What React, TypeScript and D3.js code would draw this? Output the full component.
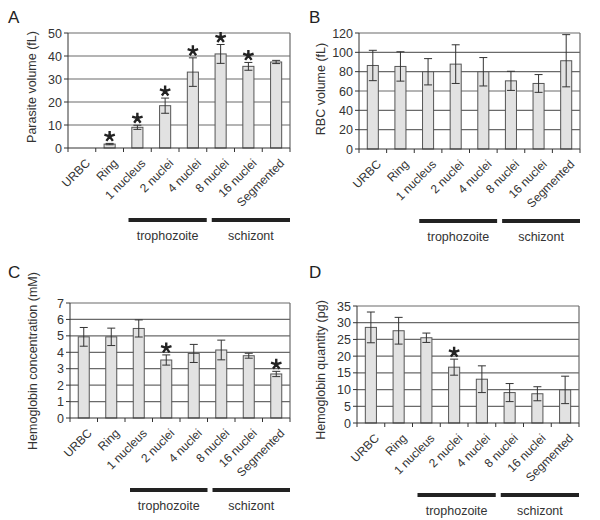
import React from "react";
import * as d3 from "d3";

const categories = ["URBC", "Ring", "1 nucleus", "2 nuclei", "4 nuclei", "8 nuclei", "16 nuclei", "Segmented"];

// A: parasite volume (fL)
const parasiteVol = [0, 1.7, 9.0, 18.4, 33.0, 40.9, 35.5, 37.4];
const parasiteErr = [0, 0.3, 0.9, 3.3, 6.2, 4.1, 1.7, 0.7];
const parasiteStar = [false, true, true, true, true, true, true, false];

// B: RBC volume (fL)
const rbcVol = [86.4, 85.4, 79.9, 87.8, 79.9, 70.5, 67.8, 91.3];
const rbcErr = [15.7, 15.2, 13.6, 20, 14.7, 9.9, 9.2, 27];
const rbcStar = [false, false, false, false, false, false, false, false];

// C: hemoglobin concentration (mM)
const hbConc = [4.94, 4.94, 5.45, 3.53, 3.93, 4.14, 3.79, 2.68];
const hbConcErr = [0.57, 0.53, 0.52, 0.31, 0.55, 0.6, 0.15, 0.16];
const hbConcStar = [false, false, false, true, false, false, false, true];

// D: hemoglobin quantity (pg)
const hbQty = [28.6, 27.6, 25.5, 16.7, 13.1, 9.1, 8.75, 9.9];
const hbQtyErr = [4.6, 4.0, 1.4, 2.4, 4.0, 2.7, 2.1, 4.1];
const hbQtyStar = [false, false, false, true, false, false, false, false];

const font = "'Liberation Sans', Arial, sans-serif";

function starPath(cx, cy, r) {
  let d = "";
  for (let i = 0; i < 5; i++) {
    const a = (-90 + i * 72) * Math.PI / 180;
    d += `M${cx},${cy}L${cx + r * Math.cos(a)},${cy + r * Math.sin(a)}`;
  }
  return d;
}

function Panel({ letter, title, values, errors, stars, yMax, yStep, left, right, top, bottom, letterX, letterY, titleX, titleY }) {
  const x = d3.scaleBand().domain(categories).range([left, right]).paddingInner(0.6).paddingOuter(0.3);
  const xb = d3.scaleBand().domain(categories).range([left, right]);
  const y = d3.scaleLinear().domain([0, yMax]).range([bottom, top]);
  const ticks = d3.range(0, yMax + yStep / 2, yStep);
  const bw = x.bandwidth();
  const gridColor = "#6a6a6a";
  const troStart = xb("1 nucleus") + 5;
  const troEnd = xb("8 nuclei");
  const schStart = xb("8 nuclei") + 5;
  const schEnd = right;
  return (
    <g fontFamily={font}>
      <text x={letterX} y={letterY} fontSize={17} fill="#222">{letter}</text>
      <text transform={`translate(${titleX},${titleY}) rotate(-90)`} textAnchor="middle" fontSize={12.5} fill="#333">{title}</text>
      {ticks.map(t => (
        <g key={t}>
          {t > 0 && <line x1={left} x2={right} y1={y(t)} y2={y(t)} stroke={gridColor} strokeWidth={1.2} />}
          <line x1={left - 4} x2={left} y1={y(t)} y2={y(t)} stroke="#333" />
          <text x={left - 6} y={y(t)} dy="0.36em" textAnchor="end" fontSize={12.5} fill="#333">{t}</text>
        </g>
      ))}
      <line x1={right} x2={right} y1={top} y2={bottom} stroke={gridColor} strokeWidth={1.2} />
      {categories.map((c, i) => (
        <g key={c}>
          {values[i] > 0 && (
            <rect x={x(c)} y={y(values[i])} width={bw} height={bottom - y(values[i])} fill="#e2e2e2" stroke="#555" strokeWidth={1} />
          )}
          {errors[i] > 0 && (
            <g stroke="#333" strokeWidth={1}>
              <line x1={x(c) + bw / 2} x2={x(c) + bw / 2} y1={y(values[i] + errors[i])} y2={y(values[i] - errors[i])} />
              <line x1={x(c) + bw / 2 - 4} x2={x(c) + bw / 2 + 4} y1={y(values[i] + errors[i])} y2={y(values[i] + errors[i])} />
              <line x1={x(c) + bw / 2 - 4} x2={x(c) + bw / 2 + 4} y1={y(values[i] - errors[i])} y2={y(values[i] - errors[i])} />
            </g>
          )}
          {stars[i] && (
            <path d={starPath(x(c) + bw / 2, y(values[i] + errors[i]) - 7, 5.5)} stroke="#222" strokeWidth={2.4} fill="none" />
          )}
          <text transform={`translate(${xb(c) + xb.bandwidth() / 2 + 6},${bottom + 13}) rotate(-45)`} textAnchor="end" dy="0.35em" fontSize={12} fill="#333">{c}</text>
        </g>
      ))}
      {categories.map(c => (
        <line key={"t" + c} x1={xb(c)} x2={xb(c)} y1={bottom} y2={bottom + 4} stroke="#333" />
      ))}
      <line x1={right} x2={right} y1={bottom} y2={bottom + 4} stroke="#333" />
      <line x1={left} x2={left} y1={top} y2={bottom} stroke="#333" />
      <line x1={left} x2={right} y1={bottom} y2={bottom} stroke="#333" />
      <line x1={troStart} x2={troEnd} y1={bottom + 72} y2={bottom + 72} stroke="#222" strokeWidth={4} />
      <line x1={schStart} x2={schEnd} y1={bottom + 72} y2={bottom + 72} stroke="#222" strokeWidth={4} />
      <text x={(troStart + troEnd) / 2} y={bottom + 92} textAnchor="middle" fontSize={12.5} fill="#333">trophozoite</text>
      <text x={(schStart + schEnd) / 2} y={bottom + 92} textAnchor="middle" fontSize={12.5} fill="#333">schizont</text>
    </g>
  );
}

export default function App() {
  return (
    <div style={{ position: "absolute", left: 0, top: 0 }}>
      <svg width={600} height={520} style={{ display: "block", background: "#fff" }}>
        <Panel letter="A" title="Parasite volume (fL)" values={parasiteVol} errors={parasiteErr} stars={parasiteStar}
          yMax={50} yStep={10} left={68} right={290} top={33} bottom={148} letterX={8} letterY={23} titleX={36} titleY={87} />
        <Panel letter="B" title="RBC volume (fL)" values={rbcVol} errors={rbcErr} stars={rbcStar}
          yMax={120} yStep={20} left={359} right={580} top={33} bottom={149} letterX={309} letterY={23} titleX={325} titleY={89} />
        <Panel letter="C" title="Hemoglobin concentration (mM)" values={hbConc} errors={hbConcErr} stars={hbConcStar}
          yMax={7} yStep={1} left={70} right={290} top={303} bottom={418} letterX={8} letterY={278} titleX={37} titleY={361} />
        <Panel letter="D" title="Hemoglobin quantity (pg)" values={hbQty} errors={hbQtyErr} stars={hbQtyStar}
          yMax={35} yStep={5} left={357} right={579} top={306} bottom={423} letterX={309} letterY={278} titleX={325} titleY={370} />
      </svg>
    </div>
  );
}
